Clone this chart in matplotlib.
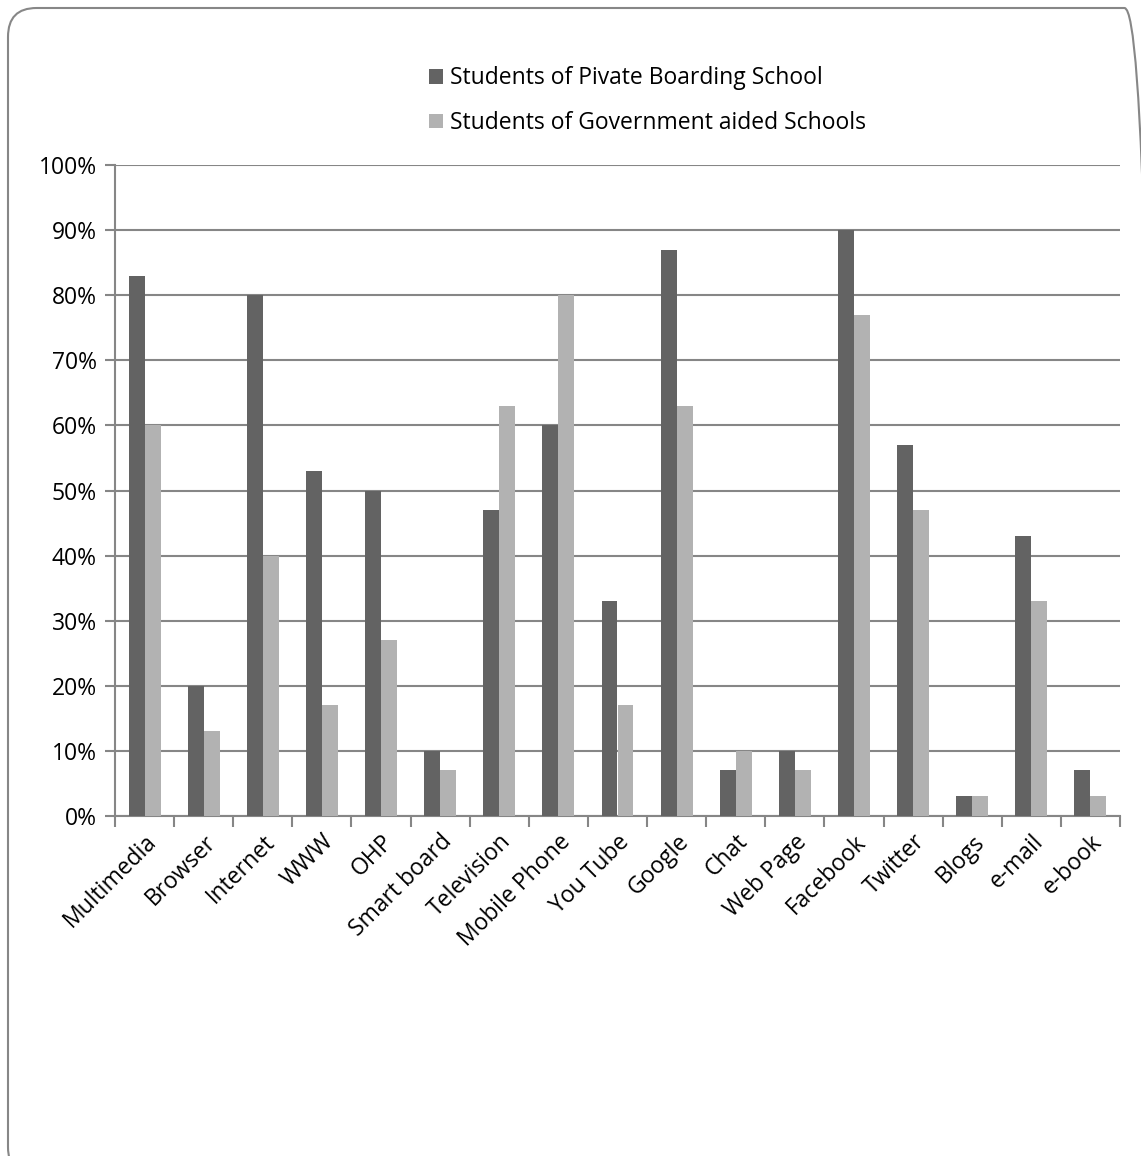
import numpy as np
import matplotlib.pyplot as plt
from matplotlib.patches import FancyBboxPatch
from matplotlib.ticker import FuncFormatter

plt.rcParams['font.family'] = ['Open Sans', 'DejaVu Sans']

# Data
categories = ['Multimedia', 'Browser', 'Internet', 'WWW', 'OHP', 'Smart board',
              'Television', 'Mobile Phone', 'You Tube', 'Google', 'Chat',
              'Web Page', 'Facebook', 'Twitter', 'Blogs', 'e-mail', 'e-book']
private_school = [83, 20, 80, 53, 50, 10, 47, 60, 33, 87, 7, 10, 90, 57, 3, 43, 7]
govt_school = [60, 13, 40, 17, 27, 7, 63, 80, 17, 63, 10, 7, 77, 47, 3, 33, 3]
series_names = ['Students of Pivate Boarding School',
                'Students of Government aided Schools']

dark = '#636363'
light = '#b2b2b2'
grid_col = '#868686'
fs = 16.5

fig = plt.figure(figsize=(11.41, 11.56), dpi=100)

# rounded chart border
border = FancyBboxPatch((8 / 1141, -20 / 1156), 1145 / 1141, 1168 / 1156,
                        boxstyle='round,pad=0,rounding_size=0.025',
                        transform=fig.transFigure, facecolor='none',
                        edgecolor='#878787', linewidth=1.5, zorder=0)
fig.patches.append(border)

ax = fig.add_axes([115 / 1141, 1 - 816 / 1156, (1120 - 115) / 1141, (816 - 165) / 1156])

x = np.arange(len(categories))
w = 0.27
b1 = ax.bar(x - w / 2, private_school, w, color=dark, label=series_names[0], zorder=3)
b2 = ax.bar(x + w / 2, govt_school, w, color=light, label=series_names[1], zorder=3)

ax.set_xlim(-0.5, len(categories) - 0.5)
ax.set_ylim(0, 100)
ax.set_yticks(np.arange(0, 101, 10))
ax.yaxis.set_major_formatter(FuncFormatter(lambda v, p: '%d%%' % v))
ax.yaxis.grid(True, color=grid_col, linewidth=1.5, zorder=0)
ax.set_axisbelow(True)

# category labels and boundary ticks
ax.set_xticks(x)
ax.set_xticklabels(categories, rotation=45, ha='right', rotation_mode='anchor')
ax.tick_params(axis='x', which='major', length=0, pad=10, labelsize=fs)
ax.set_xticks(np.arange(-0.5, len(categories)), minor=True)
ax.tick_params(axis='x', which='minor', length=8, width=1.5, color=grid_col, direction='out')
ax.tick_params(axis='y', length=7, width=1.5, color=grid_col, labelsize=fs, pad=6)

for s in ['top', 'right']:
    ax.spines[s].set_visible(False)
for s in ['left', 'bottom']:
    ax.spines[s].set_color(grid_col)
    ax.spines[s].set_linewidth(1.5)

leg = fig.legend(handles=[b1, b2], loc='upper left', bbox_to_anchor=(418 / 1141, 1 - 55 / 1156),
                 frameon=False, fontsize=fs, handlelength=0.6, handleheight=0.6,
                 handletextpad=0.3, labelspacing=0.9, borderpad=0)

fig.savefig('out.png', dpi=100)
